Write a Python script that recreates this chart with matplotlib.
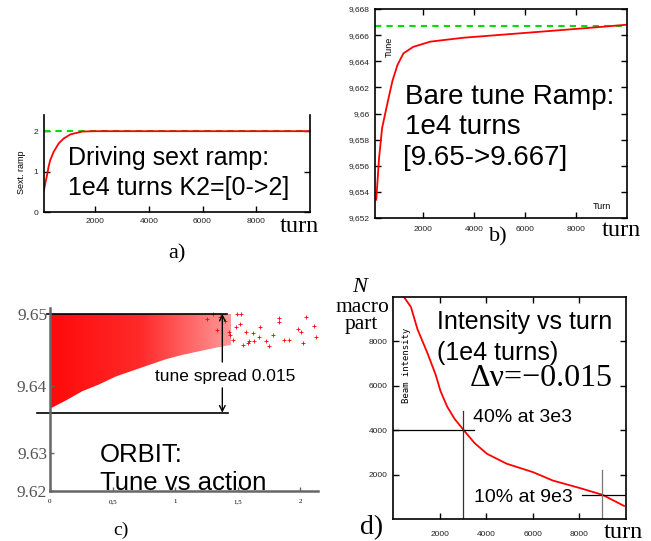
import numpy as np
import matplotlib
matplotlib.use("Agg")
import matplotlib.pyplot as plt
from matplotlib.colors import LinearSegmentedColormap

W, H = 651, 541

# a) driving sextupole ramp
turn_a = [100, 150, 210, 270, 330, 460, 650, 835, 1080, 1520, 2000, 10000]
k2_a = [0.54, 0.72, 0.90, 1.12, 1.28, 1.49, 1.70, 1.82, 1.92, 1.99, 2.0, 2.0]
k2_target = 2.0

# b) bare tune ramp
turn_b = [150, 260, 380, 590, 785, 980, 1215, 1600, 2270, 3570, 6200, 8800, 10000]
tune_b = [9.6534, 9.6566, 9.6589, 9.6608, 9.6625, 9.6637, 9.6646, 9.6651, 9.6655,
          9.6658, 9.6662, 9.6666, 9.6668]
tune_target = 9.6667
tune_ticks = [9.652, 9.654, 9.656, 9.658, 9.660, 9.662, 9.664, 9.666, 9.668]
tune_labels = ['9,652', '9,654', '9,656', '9,658', '9,66', '9,662', '9,664', '9,666', '9,668']

# c) tune vs action (dense core outline + sparse tail points)
act_env = [0.0, 0.125, 0.258, 0.392, 0.526, 0.658, 0.792, 0.926, 1.058, 1.192, 1.326, 1.45]
tune_env_low = [9.6366, 9.6378, 9.6392, 9.6402, 9.6413, 9.6421, 9.6429, 9.6437, 9.6443,
                9.6448, 9.6453, 9.6457]
tune_env_high = 9.65
act_tail = [1.496, 1.526, 1.832, 1.832, 2.046, 2.112, 2.126, 1.978, 2.006, 1.872, 1.912,
            2.018, 1.726, 1.778, 1.672, 1.618, 1.566, 1.632, 1.578, 1.458, 1.432, 1.486,
            1.538, 1.592, 1.40, 1.44, 1.52, 1.36, 1.68, 1.75, 1.30, 1.25, 1.33]
tune_tail = [9.6499, 9.6499, 9.6494, 9.6489, 9.6496, 9.6483, 9.6468, 9.6479, 9.6475,
             9.6464, 9.6463, 9.6460, 9.6462, 9.6471, 9.6468, 9.6474, 9.6475, 9.6462,
             9.6459, 9.6464, 9.6475, 9.6482, 9.6457, 9.6462, 9.6490, 9.6470, 9.6486,
             9.6496, 9.6481, 9.6455, 9.6499, 9.6493, 9.6478]
act_ticks = [0, 0.5, 1, 1.5, 2]
act_labels = ['0', '0,5', '1', '1,5', '2']
tune_c_ticks = [9.62, 9.63, 9.64, 9.65]
spread_top, spread_bottom, spread_act = 9.65, 9.636, 1.376

# d) beam intensity
turn_d = [300, 470, 770, 1050, 1475, 1830, 2040, 2326, 2650, 3036, 3500, 4030, 4880,
          6010, 6865, 8000, 8990, 9915]
n_d = [10300, 10000, 9550, 8550, 7480, 6500, 5760, 5060, 4500, 4000, 3420, 2940, 2490,
       2110, 1730, 1400, 1090, 590]
mark1_turn, mark1_n = 3020, 4000
mark2_turn, mark2_n = 8960, 1090

sans = ['Liberation Sans', 'DejaVu Sans']
serif = ['Liberation Serif', 'DejaVu Serif']
plt.rcParams['font.family'] = sans


def box(x0, y0, x1, y1):
    return [x0 / W, 1 - y1 / H, (x1 - x0) / W, (y1 - y0) / H]


def P(x, y):
    return x / W, 1 - y / H


def gnu(ax, pad_x, pad_y):
    for s in ax.spines.values():
        s.set_linewidth(1.2)
    ax.tick_params(direction='in', length=4, width=1, labelsize=6, top=True, right=True,
                   labelcolor='#222222')
    ax.tick_params(axis='x', pad=pad_x)
    ax.tick_params(axis='y', pad=pad_y)


fig = plt.figure(figsize=(W / 100, H / 100), dpi=100)

# ---- a)
axa = fig.add_axes(box(44, 115, 310, 212))
axa.axhline(k2_target, color='#00dd00', lw=1.5, dashes=(3, 2.5))
axa.plot(turn_a, k2_a, color='red', lw=1.3)
axa.set_xlim(100, 10000)
axa.set_ylim(0, 2.4)
axa.set_xticks([2000, 4000, 6000, 8000])
axa.set_yticks([0, 1, 2])
gnu(axa, 4, 4)
axa.spines['top'].set_visible(False)
axa.tick_params(top=False)
fig.text(*P(22, 172), 'Sext. ramp', rotation=90, fontsize=6.5, ha='center', va='center')
fig.text(*P(68, 158), 'Driving sext ramp:', fontsize=18, va='center')
fig.text(*P(68, 188), '1e4 turns K2=[0->2]', fontsize=18, va='center')
fig.text(*P(299, 226), 'turn', family=serif, fontsize=17.5, ha='center', va='center')
fig.text(*P(177, 254), 'a)', family=serif, fontsize=16, ha='center', va='center')

# ---- b)
axb = fig.add_axes(box(375, 9, 627, 218))
axb.axhline(tune_target, color='#00dd00', lw=1.5, dashes=(3, 2.5))
axb.plot(turn_b, tune_b, color='red', lw=1.3)
axb.set_xlim(100, 10000)
axb.set_ylim(9.652, 9.668)
axb.set_xticks([2000, 4000, 6000, 8000])
axb.set_yticks(tune_ticks, tune_labels)
gnu(axb, 6, 4)
axb.text(0.055, 0.82, 'Tune', transform=axb.transAxes, rotation=90, fontsize=6.5,
         ha='center', va='center')
axb.text(0.9, 0.053, 'Turn', transform=axb.transAxes, fontsize=6.5, ha='center', va='center')
fig.text(*P(405, 97), 'Bare tune Ramp:', fontsize=20, va='center')
fig.text(*P(405, 127), '1e4 turns', fontsize=20, va='center')
fig.text(*P(403, 158), '[9.65->9.667]', fontsize=20, va='center')
fig.text(*P(621, 230), 'turn', family=serif, fontsize=17.5, ha='center', va='center')
fig.text(*P(498, 237), 'b)', family=serif, fontsize=16, ha='center', va='center')

# ---- c)
yk = [9.61, 9.62, 9.63, 9.64, 9.65, 9.66]
pk = [-38, 0, 38, 105, 177, 249]
axc = fig.add_axes(box(50, 308, 318, 491))
axc.set_yscale('function', functions=(lambda y: np.interp(y, yk, pk),
                                      lambda p: np.interp(p, pk, yk)))
cloud = axc.fill_between(act_env, tune_env_low, tune_env_high, color='none', lw=0)
# the cloud gets sparser with action: a red ramp clipped to its outline
ramp = LinearSegmentedColormap.from_list('ramp', ['#ff0a0a', '#ff2a2a', '#ff9a9a'])
shade = axc.imshow(np.linspace(0, 1, 200)[None, :], cmap=ramp, aspect='auto',
                   extent=(0, act_env[-1], 9.62, tune_env_high), origin='lower',
                   interpolation='bilinear')
shade.set_clip_path(cloud.get_paths()[0], cloud.get_transform())
axc.scatter(act_tail, tune_tail, marker='+', s=10, lw=0.6, color='red')
axc.set_xlim(0, 2.14)
axc.set_ylim(9.62, 9.6508)
for s in ['top', 'right']:
    axc.spines[s].set_visible(False)
for s in ['left', 'bottom']:
    axc.spines[s].set_color('#666666')
    axc.spines[s].set_linewidth(1.8)
axc.set_xticks(act_ticks, act_labels)
axc.set_yticks(tune_c_ticks, ['%.2f' % t for t in tune_c_ticks])
axc.tick_params(direction='in', length=3, width=1, color='#666666')
axc.tick_params(axis='x', labelsize=5, pad=6)
axc.tick_params(axis='y', labelsize=12.5, labelcolor='#555555', pad=2)
for lab in axc.get_xticklabels() + axc.get_yticklabels():
    lab.set_family(serif)
axc.plot([-0.02, 1.416], [spread_top, spread_top], color='black', lw=1.2, clip_on=False)
axc.plot([-0.104, 1.424], [spread_bottom, spread_bottom], color='black', lw=1.2, clip_on=False)
axc.annotate('', xy=(spread_act, spread_top), xytext=(spread_act, 9.6433),
             arrowprops=dict(arrowstyle='->', lw=1, color='black', shrinkA=0, shrinkB=0))
axc.annotate('', xy=(spread_act, spread_bottom), xytext=(spread_act, 9.6397),
             arrowprops=dict(arrowstyle='->', lw=1, color='black', shrinkA=0, shrinkB=0))
fig.text(*P(155, 376), 'tune spread 0.015', fontsize=12.5, va='center')
fig.text(*P(100, 455), 'ORBIT:', fontsize=18.5, va='center')
fig.text(*P(100, 483), 'Tune vs action', fontsize=18.5, va='center')
fig.text(*P(121, 530), 'c)', family=serif, fontsize=14, ha='center', va='center')

# ---- d)
axd = fig.add_axes(box(393, 297, 626, 519))
axd.plot(turn_d, n_d, color='red', lw=1.3)
axd.set_xlim(0, 10000)
axd.set_ylim(0, 10000)
axd.set_xticks([2000, 4000, 6000, 8000])
axd.set_yticks([2000, 4000, 6000, 8000])
gnu(axd, 9, 4)
axd.plot([0, 3490], [mark1_n, mark1_n], color='black', lw=0.9)
axd.plot([mark1_turn, mark1_turn], [0, 4850], color='#333333', lw=0.9)
axd.plot([8130, 10000], [mark2_n, mark2_n], color='black', lw=0.9)
axd.plot([mark2_turn, mark2_turn], [0, 2200], color='#777777', lw=0.9)
axd.text(0.06, 0.694, 'Beam intensity', transform=axd.transAxes, rotation=90,
         fontsize=6.5, family='DejaVu Sans Mono', ha='center', va='center')
fig.text(*P(437, 322), 'Intensity vs turn', fontsize=18, va='center')
fig.text(*P(437, 353), '(1e4 turns)', fontsize=18, va='center')
fig.text(*P(613, 378), 'Δν=−0.015', family=serif, fontsize=23, ha='right', va='center')
fig.text(*P(473, 418), '40% at 3e3', fontsize=14, va='center')
fig.text(*P(474, 497), '10% at 9e3', fontsize=14, va='center')
fig.text(*P(360, 287), 'N', family=serif, style='italic', fontsize=16, ha='center', va='center')
fig.text(*P(362, 307), 'macro', family=serif, fontsize=15.5, ha='center', va='center')
fig.text(*P(361, 325), 'part', family=serif, fontsize=15.5, ha='center', va='center')
fig.text(*P(372, 528), 'd)', family=serif, fontsize=20, ha='center', va='center')
fig.text(*P(623, 532), 'turn', family=serif, fontsize=17.5, ha='center', va='center')

fig.savefig('out.png', dpi=100)
